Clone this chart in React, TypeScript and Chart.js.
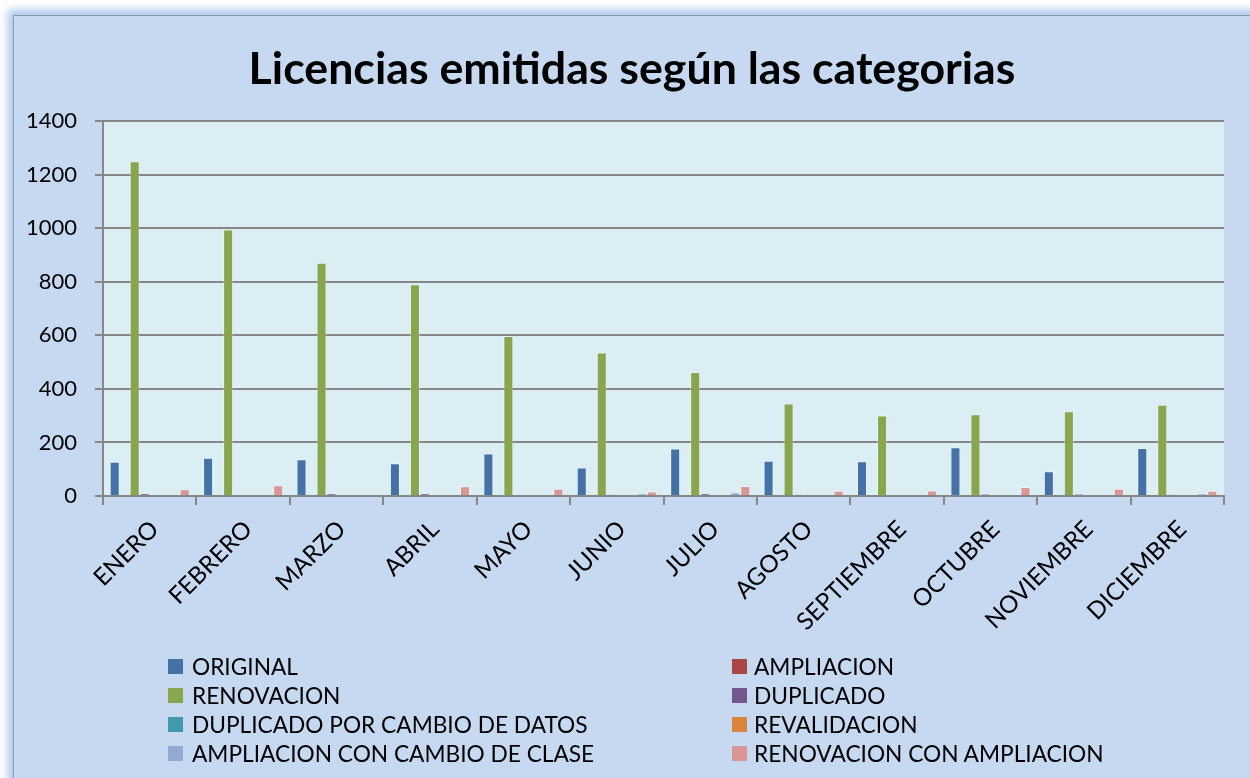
import React, { useEffect, useRef } from "react";
import { Chart, registerables } from "chart.js";

Chart.register(...registerables);

const chartTitle = "Licencias emitidas según las categorias";
const months = ["ENERO", "FEBRERO", "MARZO", "ABRIL", "MAYO", "JUNIO", "JULIO", "AGOSTO", "SEPTIEMBRE", "OCTUBRE", "NOVIEMBRE", "DICIEMBRE"];
const original = [128, 143, 137, 122, 159, 106, 177, 132, 130, 182, 92, 179];
const ampliacion = [0, 0, 0, 0, 0, 0, 0, 0, 0, 0, 0, 0];
const renovacion = [1250, 995, 871, 791, 597, 536, 463, 345, 301, 305, 316, 341];
const duplicado = [9, 2, 10, 9, 4, 5, 10, 5, 2, 7, 7, 5];
const duplicadoCambioDatos = [0, 0, 0, 0, 0, 0, 0, 0, 0, 0, 0, 0];
const revalidacion = [0, 0, 0, 0, 0, 0, 0, 0, 0, 0, 0, 0];
const ampliacionCambioClase = [0, 0, 0, 0, 4, 9, 14, 0, 4, 0, 5, 10];
const renovacionAmpliacion = [25, 40, 0, 36, 27, 17, 37, 20, 21, 34, 27, 20];
const yTicks = [0, 200, 400, 600, 800, 1000, 1200, 1400];

const seriesNames = [
  "ORIGINAL",
  "AMPLIACION",
  "RENOVACION",
  "DUPLICADO",
  "DUPLICADO POR CAMBIO DE DATOS",
  "REVALIDACION",
  "AMPLIACION CON CAMBIO DE CLASE",
  "RENOVACION CON AMPLIACION",
];
const seriesData = [original, ampliacion, renovacion, duplicado, duplicadoCambioDatos, revalidacion, ampliacionCambioClase, renovacionAmpliacion];
const seriesColors = ["#4471A6", "#AA4643", "#89A54E", "#71588F", "#4198AF", "#DB843D", "#93A9CF", "#D99694"];

const plotBg = {
  id: "plotBg",
  beforeDraw(chart: any) {
    const { ctx, chartArea } = chart;
    ctx.save();
    ctx.fillStyle = "#DBEEF4";
    ctx.fillRect(chartArea.left, chartArea.top, chartArea.right - chartArea.left, chartArea.bottom - chartArea.top);
    ctx.restore();
  },
};

export default function App() {
  const ref = useRef<HTMLCanvasElement>(null);

  useEffect(() => {
    if (!ref.current) return;
    const chart = new Chart(ref.current, {
      type: "bar",
      data: {
        labels: months,
        datasets: seriesNames.map((name, i) => ({
          label: name,
          data: seriesData[i],
          backgroundColor: seriesColors[i],
          borderColor: "rgba(255,255,255,0.35)",
          borderWidth: 1,
          barPercentage: 1,
          categoryPercentage: 0.857,
        })),
      },
      options: {
        responsive: false,
        animation: false,
        layout: { padding: { left: 20, right: 26, top: 121, bottom: 132 } },
        plugins: {
          legend: { display: false },
          tooltip: { enabled: false },
          title: { display: false },
        },
        scales: {
          x: {
            grid: { offset: true, drawOnChartArea: false, drawTicks: true, tickLength: 9, color: "#878787", lineWidth: 2 },
            border: { color: "#878787", width: 2 },
            ticks: {
              autoSkip: false,
              minRotation: 45,
              maxRotation: 45,
              color: "#000",
              padding: 10,
              labelOffset: 5,
              font: { family: "Lato", size: 24 },
            },
            afterFit: (s: any) => {
              s.height = 150;
            },
          },
          y: {
            min: 0,
            max: 1400,
            afterBuildTicks: (s: any) => {
              s.ticks = yTicks.map((v) => ({ value: v }));
            },
            grid: { color: "#878787", lineWidth: 2, tickLength: 8, drawTicks: true },
            border: { color: "#878787", width: 2 },
            ticks: {
              color: "#000",
              padding: 18,
              font: { family: "Lato", size: 22 },
              callback: (v: any) => String(v),
            },
            afterFit: (s: any) => {
              s.width = 83;
            },
          },
        },
      },
      plugins: [plotBg],
    });
    return () => chart.destroy();
  }, []);

  const rows = [0, 1, 2, 3];
  return (
    <div style={{ position: "fixed", left: 0, top: 0, width: 1250, height: 778, overflow: "hidden", background: "#fff" }}>
      <div
        style={{
          position: "absolute",
          left: 13,
          top: 15,
          width: 1260,
          height: 790,
          background: "#C6D9F1",
          border: "1px solid #8F9AA6",
          boxShadow: "0 0 8px 5px rgba(140,180,228,0.75)",
        }}
      />
      <canvas ref={ref} width={1250} height={778} style={{ position: "absolute", left: 0, top: 0 }} />
      <div
        style={{
          position: "absolute",
          left: 0,
          width: 1264,
          top: 40,
          height: 54,
          lineHeight: "54px",
          textAlign: "center",
          fontFamily: "Lato",
          fontWeight: "bold",
          fontSize: 44.7,
          color: "#000",
          whiteSpace: "nowrap",
        }}
      >
        {chartTitle}
      </div>
      {rows.map((r) =>
        [0, 1].map((c) => {
          const i = r * 2 + c;
          return (
            <div
              key={i}
              style={{
                position: "absolute",
                left: c === 0 ? 168 : 732,
                top: 666 + r * 29 - 15,
                height: 30,
                display: "flex",
                alignItems: "center",
                fontFamily: "Lato",
                fontSize: 22.7,
                color: "#000",
                whiteSpace: "nowrap",
              }}
            >
              <span style={{ display: "inline-block", width: 15, height: 15, background: seriesColors[i], marginRight: c === 0 ? 9 : 7 }} />
              <span>{seriesNames[i]}</span>
            </div>
          );
        })
      )}
    </div>
  );
}
